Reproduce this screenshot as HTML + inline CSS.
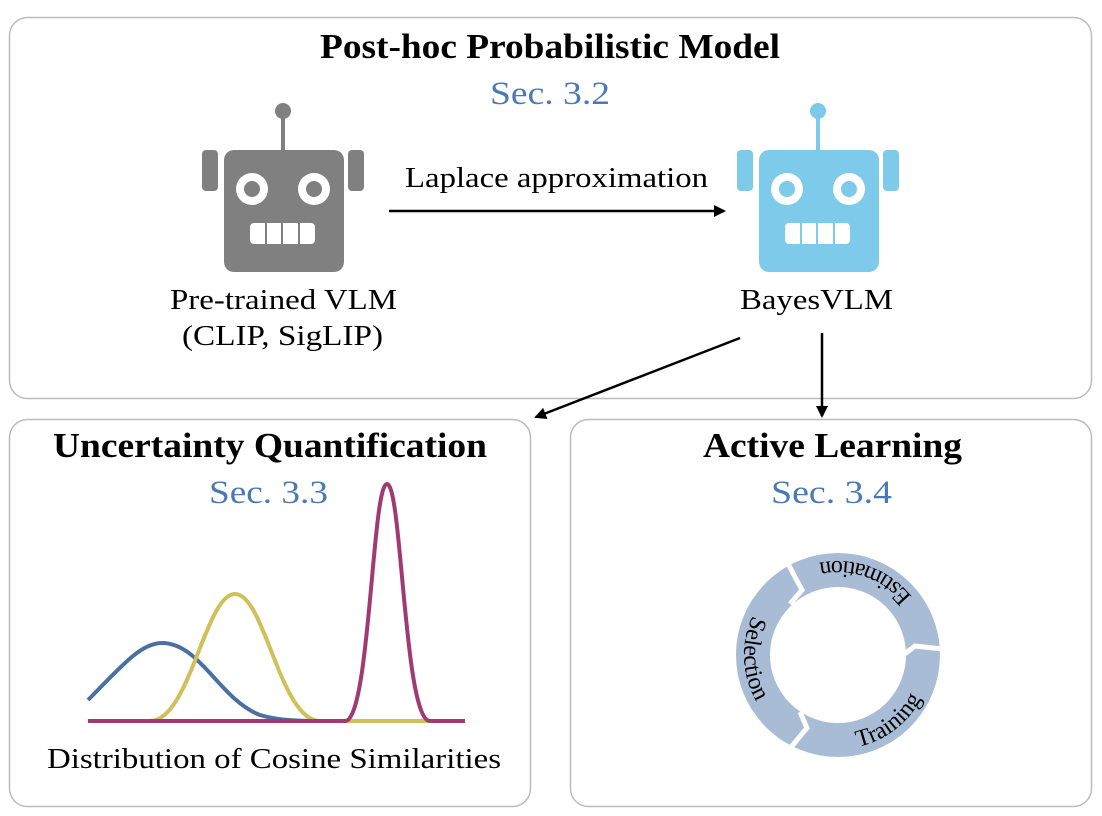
<!DOCTYPE html>
<html><head><meta charset="utf-8"><style>
body{margin:0;background:#fff;}
svg{display:block;font-family:"Liberation Serif",serif;}
</style></head><body>
<svg width="1102" height="816" viewBox="0 0 1102 816">
<defs>
<marker id="ah" markerWidth="12" markerHeight="12" refX="10" refY="6" orient="auto" markerUnits="userSpaceOnUse" viewBox="0 0 12 12">
<path d="M0,0 L12,6 L0,12 z" fill="#000"/></marker>
<path id="tEst" d="M926.3,622.8 A94,94 0 0 0 791,573.6" fill="none"/>
<path id="tSel" d="M761,601 A94,94 0 0 0 766,715.4" fill="none"/>
<path id="tTr" d="M821.7,747.6 A94,94 0 0 0 931.6,663.2" fill="none"/>
</defs>
<rect x="9.5" y="17.5" width="1082" height="381" rx="18" fill="none" stroke="#bbb" stroke-width="1.5"/>
<rect x="9.5" y="419.5" width="521" height="387" rx="18" fill="none" stroke="#bbb" stroke-width="1.5"/>
<rect x="570.5" y="419.5" width="521" height="387" rx="18" fill="none" stroke="#bbb" stroke-width="1.5"/>

<text x="320" y="58" font-size="35" font-weight="bold" textLength="460" lengthAdjust="spacingAndGlyphs">Post-hoc Probabilistic Model</text>
<text x="490" y="104" font-size="33" fill="#4a7ab5" textLength="120" lengthAdjust="spacingAndGlyphs">Sec. 3.2</text>

<g fill="#808080">
<circle cx="283" cy="111" r="8"/>
<rect x="281" y="111" width="4" height="42"/>
<rect x="202" y="150" width="16" height="41" rx="4"/>
<rect x="348" y="150" width="16" height="41" rx="4"/>
<rect x="224" y="150" width="120" height="122" rx="10"/>
<circle cx="252" cy="189" r="16" fill="#fff"/><circle cx="252" cy="189" r="8"/>
<circle cx="314" cy="189" r="16" fill="#fff"/><circle cx="314" cy="189" r="8"/>
<rect x="250" y="223" width="65" height="21" rx="4" fill="#fff"/>
<rect x="265" y="223" width="2" height="21"/><rect x="281" y="223" width="2" height="21"/><rect x="298" y="223" width="2" height="21"/>
</g>
<g transform="translate(535,0)" fill="#7ecaea">
<circle cx="283" cy="111" r="8"/>
<rect x="281" y="111" width="4" height="42"/>
<rect x="202" y="150" width="16" height="41" rx="4"/>
<rect x="348" y="150" width="16" height="41" rx="4"/>
<rect x="224" y="150" width="120" height="122" rx="10"/>
<circle cx="252" cy="189" r="16" fill="#fff"/><circle cx="252" cy="189" r="8"/>
<circle cx="314" cy="189" r="16" fill="#fff"/><circle cx="314" cy="189" r="8"/>
<rect x="250" y="223" width="65" height="21" rx="4" fill="#fff"/>
<rect x="265" y="223" width="2" height="21"/><rect x="281" y="223" width="2" height="21"/><rect x="298" y="223" width="2" height="21"/>
</g>

<text x="170" y="309" font-size="28" textLength="227" lengthAdjust="spacingAndGlyphs">Pre-trained VLM</text>
<text x="182" y="345" font-size="28" textLength="201" lengthAdjust="spacingAndGlyphs">(CLIP, SigLIP)</text>
<text x="740" y="309" font-size="28" textLength="153" lengthAdjust="spacingAndGlyphs">BayesVLM</text>
<text x="405" y="187" font-size="28" textLength="303" lengthAdjust="spacingAndGlyphs">Laplace approximation</text>
<line x1="389" y1="211" x2="724" y2="211" stroke="#000" stroke-width="2.5" marker-end="url(#ah)"/>
<line x1="740" y1="338" x2="536" y2="417" stroke="#000" stroke-width="2.5" marker-end="url(#ah)"/>
<line x1="822" y1="333" x2="822" y2="416" stroke="#000" stroke-width="2.5" marker-end="url(#ah)"/>

<text x="53" y="457" font-size="35" font-weight="bold" textLength="434" lengthAdjust="spacingAndGlyphs">Uncertainty Quantification</text>
<text x="209" y="503" font-size="33" fill="#4a7ab5" textLength="119" lengthAdjust="spacingAndGlyphs">Sec. 3.3</text>
<text x="703" y="457" font-size="35" font-weight="bold" textLength="259" lengthAdjust="spacingAndGlyphs">Active Learning</text>
<text x="771" y="503" font-size="33" fill="#4a7ab5" textLength="121" lengthAdjust="spacingAndGlyphs">Sec. 3.4</text>

<path d="M88,700 C120,668 140,643 162,643 C200,643 220,700 260,715 C280,721 300,721 330,721" fill="none" stroke="#4a6fa0" stroke-width="4"/>
<path d="M150,721 C190,721 205,594 235,594 C265,594 280,721 320,721 L465,721" fill="none" stroke="#cfc05a" stroke-width="4"/>
<path d="M88,721 L345,721 C370,721 372,484 387,484 C402,484 404,721 430,721 L465,721" fill="none" stroke="#a03a72" stroke-width="4"/>
<text x="47" y="768" font-size="28" textLength="454" lengthAdjust="spacingAndGlyphs">Distribution of Cosine Similarities</text>

<g>
<circle cx="838" cy="655" r="85" fill="none" stroke="#a9bcd6" stroke-width="34"/>
<g stroke="#fff" stroke-width="5" fill="none">
<path d="M787,562 L802,590 L790,604"/>
<path d="M942,649 L915,646 L902,656"/>
<path d="M787,752 L807,728 L800,712"/>
</g>
<text font-size="24"><textPath href="#tEst" startOffset="50%" text-anchor="middle">Estimation</textPath></text>
<text font-size="24"><textPath href="#tSel" startOffset="50%" text-anchor="middle">Selection</textPath></text>
<text font-size="24"><textPath href="#tTr" startOffset="50%" text-anchor="middle">Training</textPath></text>
</g>
</svg>
</body></html>
